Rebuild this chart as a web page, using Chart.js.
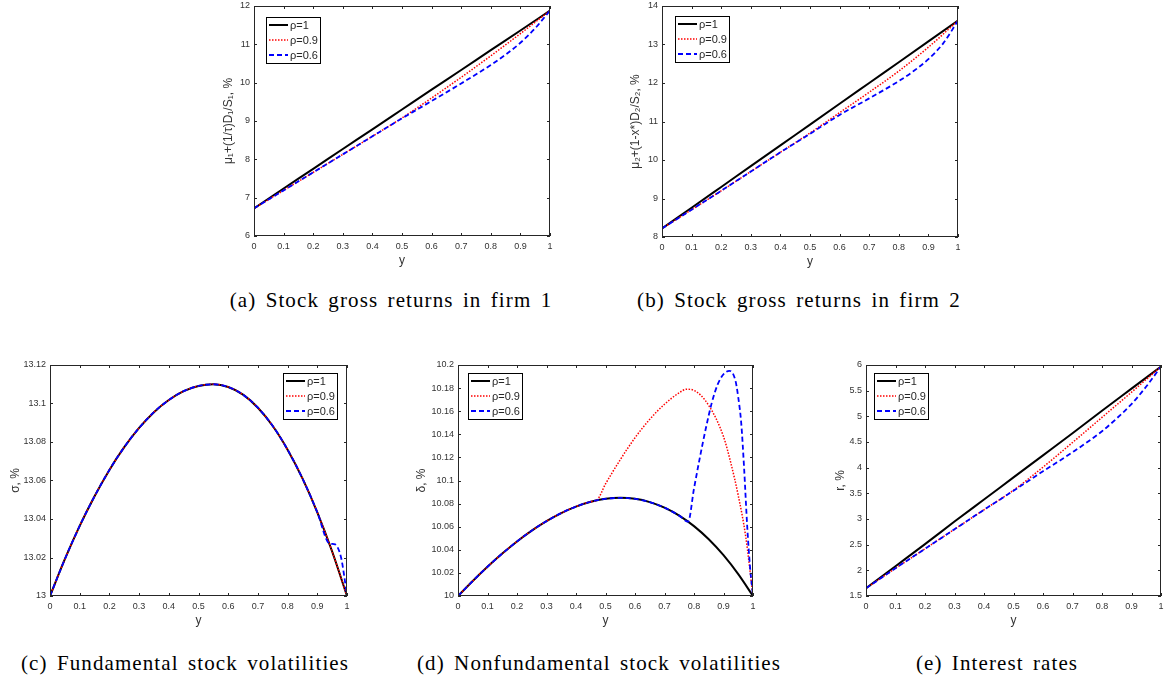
<!DOCTYPE html>
<html>
<head>
<meta charset="utf-8">
<script src="https://cdn.jsdelivr.net/npm/chart.js@4.4.0/dist/chart.umd.min.js"></script>
<style>
body{margin:0;background:#fff;width:1166px;height:682px;position:relative;overflow:hidden}
canvas{position:absolute}
.cap{position:absolute;font-family:"Liberation Serif",serif;font-size:21px;letter-spacing:1.1px;word-spacing:3px;color:#000;white-space:nowrap;transform:translate(-50%,-50%)}
</style>
</head>
<body>
<canvas id="ga" width="370" height="280" style="left:190px;top:0px"></canvas>
<canvas id="gb" width="370" height="281" style="left:598px;top:0px"></canvas>
<canvas id="gc" width="357" height="285" style="left:0px;top:355px"></canvas>
<canvas id="gd" width="369" height="285" style="left:394px;top:355px"></canvas>
<canvas id="ge" width="364" height="285" style="left:802px;top:355px"></canvas>

<div class="cap" style="left:391px;top:300px">(a) Stock gross returns in firm 1</div>
<div class="cap" style="left:799px;top:300px">(b) Stock gross returns in firm 2</div>
<div class="cap" style="left:185px;top:663px">(c) Fundamental stock volatilities</div>
<div class="cap" style="left:599px;top:663px">(d) Nonfundamental stock volatilities</div>
<div class="cap" style="left:997px;top:663px">(e) Interest rates</div>

<script>
// y grid (the horizontal variable) shared by most curves
const xTicks = [0, 0.1, 0.2, 0.3, 0.4, 0.5, 0.6, 0.7, 0.8, 0.9, 1];
const xCoarse = [0, 0.1, 0.2, 0.3, 0.4, 0.5, 0.6, 0.7, 0.8, 0.9, 1];
const xCoarse6 = [0, 0.1, 0.2, 0.3, 0.4, 0.5, 0.6, 0.7, 0.8, 0.85, 0.9, 0.95, 1];
const xFine = [0, 0.05, 0.1, 0.15, 0.2, 0.25, 0.3, 0.35, 0.4, 0.45, 0.5, 0.55, 0.6, 0.65, 0.7, 0.75, 0.8, 0.85, 0.9, 0.95, 1];
const labels = ['ρ=1', 'ρ=0.9', 'ρ=0.6'];

// (a) stock gross returns firm 1
const aTicks = [6, 7, 8, 9, 10, 11, 12];
const aRho1 = [6.72, 7.24, 7.75, 8.27, 8.78, 9.30, 9.82, 10.33, 10.85, 11.36, 11.88];
const aRho09 = [6.72, 7.19, 7.66, 8.13, 8.60, 9.08, 9.60, 10.14, 10.70, 11.28, 11.88];
const aRho06 = [6.72, 7.19, 7.66, 8.13, 8.60, 9.07, 9.52, 9.98, 10.46, 10.73, 11.04, 11.42, 11.88];

// (b) stock gross returns firm 2
const bTicks = [8, 9, 10, 11, 12, 13, 14];
const bRho1 = [8.22, 8.76, 9.30, 9.84, 10.38, 10.92, 11.46, 12.00, 12.54, 13.08, 13.62];
const bRho09 = [8.22, 8.71, 9.20, 9.70, 10.20, 10.70, 11.23, 11.76, 12.31, 12.93, 13.62];
const bRho06 = [8.22, 8.71, 9.20, 9.70, 10.20, 10.68, 11.17, 11.60, 12.05, 12.31, 12.62, 13.03, 13.62];

// (c) fundamental volatility
const cTicks = [13, 13.02, 13.04, 13.06, 13.08, 13.1, 13.12];
const cRho1 = [13.0000, 13.0191, 13.0364, 13.0518, 13.0655, 13.0773, 13.0873, 13.0955, 13.1018, 13.1064, 13.1091, 13.1100,
  13.1086, 13.1046, 13.0978, 13.0883, 13.0760, 13.0611, 13.0435, 13.0231, 13.0000];
const cRho09 = cRho1;
const xC6 = [0, 0.05, 0.1, 0.15, 0.2, 0.25, 0.3, 0.35, 0.4, 0.45, 0.5, 0.55, 0.6, 0.65, 0.7, 0.75, 0.8, 0.85, 0.9, 0.94, 0.96, 0.98, 0.99, 1];
const cRho06 = [13.0000, 13.0191, 13.0364, 13.0518, 13.0655, 13.0773, 13.0873, 13.0955, 13.1018, 13.1064, 13.1091, 13.1100,
  13.1086, 13.1046, 13.0978, 13.0883, 13.0760, 13.0611, 13.0435, 13.0274, 13.0268, 13.0200, 13.0110, 13.0000];

// (d) nonfundamental volatility
const dTicks = [10, 10.02, 10.04, 10.06, 10.08, 10.1, 10.12, 10.14, 10.16, 10.18, 10.2];
const dRho1 = [10.0000, 10.0130, 10.0253, 10.0367, 10.0472, 10.0566, 10.0648, 10.0718, 10.0774, 10.0816, 10.0841, 10.0850,
  10.0841, 10.0813, 10.0765, 10.0696, 10.0605, 10.0491, 10.0353, 10.0189, 10.0000];
const xD9 = [0, 0.05, 0.1, 0.15, 0.2, 0.25, 0.3, 0.35, 0.4, 0.45, 0.47, 0.5, 0.55, 0.6, 0.65, 0.7, 0.75, 0.775, 0.8,
  0.85, 0.9, 0.925, 0.95, 0.975, 1];
const dRho09 = [10.0000, 10.0130, 10.0253, 10.0367, 10.0472, 10.0566, 10.0648, 10.0718, 10.0774, 10.0816, 10.0828, 10.0970,
  10.1180, 10.1370, 10.1530, 10.1660, 10.1760, 10.1790, 10.1780, 10.1650, 10.1380, 10.1150, 10.0870, 10.0520, 10.0000];
const xD6 = [0, 0.05, 0.1, 0.15, 0.2, 0.25, 0.3, 0.35, 0.4, 0.45, 0.5, 0.55, 0.6, 0.65, 0.7, 0.75, 0.78, 0.8, 0.82, 0.84,
  0.86, 0.88, 0.9, 0.92, 0.94, 0.95, 0.96, 0.97, 0.98, 0.99, 1];
const dRho06 = [10.0000, 10.0130, 10.0253, 10.0367, 10.0472, 10.0566, 10.0648, 10.0718, 10.0774, 10.0816, 10.0841, 10.0850,
  10.0841, 10.0813, 10.0765, 10.0696, 10.0644, 10.0930, 10.1200, 10.1450, 10.1670, 10.1830, 10.1920, 10.1950, 10.1870,
  10.1720, 10.1500, 10.1100, 10.0620, 10.0250, 10.0000];

// (e) interest rates
const eTicks = [1.5, 2, 2.5, 3, 3.5, 4, 4.5, 5, 5.5, 6];
const eRho1 = [1.65, 2.08, 2.51, 2.95, 3.38, 3.81, 4.24, 4.67, 5.11, 5.54, 5.97];
const eRho09 = [1.65, 2.04, 2.42, 2.80, 3.18, 3.56, 4.01, 4.49, 4.98, 5.47, 5.97];
const eRho06 = [1.65, 2.04, 2.42, 2.80, 3.18, 3.55, 3.93, 4.30, 4.71, 4.96, 5.24, 5.58, 5.97];

const fuente = 'Liberation Sans';
const gris = '#333333';

// axes box with inward ticks on all four sides, like matlab
const cajaEjes = {
  id: 'cajaEjes',
  afterDatasetsDraw(chart) {
    const {ctx, chartArea: a, scales: {x, y}} = chart;
    ctx.save();
    ctx.strokeStyle = '#262626';
    ctx.lineWidth = 1;
    ctx.beginPath();
    x.ticks.forEach(t => {
      const px = Math.round(x.getPixelForValue(t.value)) + 0.5;
      ctx.moveTo(px, a.bottom); ctx.lineTo(px, a.bottom - 3);
      ctx.moveTo(px, a.top); ctx.lineTo(px, a.top + 3);
    });
    y.ticks.forEach(t => {
      const py = Math.round(y.getPixelForValue(t.value)) + 0.5;
      ctx.moveTo(a.left, py); ctx.lineTo(a.left + 3, py);
      ctx.moveTo(a.right, py); ctx.lineTo(a.right - 3, py);
    });
    ctx.stroke();
    ctx.strokeRect(Math.round(a.left) + 0.5, Math.round(a.top) + 0.5, Math.round(a.width) - 1, Math.round(a.height) - 1);
    ctx.restore();
  }
};

// legend drawn inside the axes with a black frame
const leyendaCaja = {
  id: 'leyendaCaja',
  afterDraw(chart, args, opts) {
    const {ctx, chartArea: a} = chart;
    const sets = chart.data.datasets.slice().sort((p, q) => q.order - p.order);
    ctx.save();
    ctx.font = '11px "' + fuente + '"';
    const tw = Math.max(...sets.map(d => ctx.measureText(d.label).width));
    const w = 24 + tw + 2, h = 46;
    const x0 = opts.right != null ? Math.round(a.right - opts.right - w) : a.left + opts.x;
    const y0 = a.top + opts.y;
    ctx.fillStyle = '#ffffff';
    ctx.fillRect(x0, y0, w, h);
    ctx.strokeStyle = '#000000';
    ctx.lineWidth = 1;
    ctx.strokeRect(x0 + 0.5, y0 + 0.5, Math.round(w), h);
    sets.forEach((d, i) => {
      const cy = y0 + 8 + i * 15;
      ctx.beginPath();
      ctx.setLineDash(d.borderDash);
      ctx.strokeStyle = d.borderColor;
      ctx.lineWidth = d.borderWidth;
      ctx.moveTo(x0 + 3, cy);
      ctx.lineTo(x0 + 22, cy);
      ctx.stroke();
      ctx.setLineDash([]);
      ctx.fillStyle = '#262626';
      ctx.textBaseline = 'middle';
      ctx.fillText(d.label, x0 + 24, cy + 0.5);
    });
    ctx.restore();
  }
};

function serie(label, xs, ys, color, dash, width, order) {
  return {
    label: label,
    data: xs.map((v, i) => ({x: v, y: ys[i]})),
    borderColor: color,
    borderDash: dash,
    borderWidth: width,
    order: order,
    fill: false,
    pointRadius: 0,
    cubicInterpolationMode: 'monotone'
  };
}

function panel(id, p) {
  return new Chart(document.getElementById(id), {
    type: 'line',
    data: {
      datasets: [
        serie(labels[0], p.x1, p.y1, '#000000', [], 2, 2),
        serie(labels[1], p.x9, p.y9, '#ff0000', [1.5, 1.5], 1.5, 1),
        serie(labels[2], p.x6, p.y6, '#0000ff', [5, 3], 1.8, 0)
      ]
    },
    options: {
      responsive: false,
      animation: false,
      events: [],
      layout: {padding: {top: p.top, right: p.right, left: 0, bottom: 0}},
      plugins: {
        legend: {display: false},
        tooltip: {enabled: false},
        leyendaCaja: p.leg
      },
      scales: {
        x: {
          type: 'linear', min: 0, max: 1,
          afterBuildTicks: s => { s.ticks = xTicks.map(v => ({value: v})); },
          afterFit: s => { s.height = p.xh; s.paddingLeft = 0; s.paddingRight = 0; },
          grid: {display: false, drawTicks: false},
          border: {display: false},
          ticks: {font: {family: fuente, size: 9}, color: gris, padding: 5, maxRotation: 0, autoSkip: false,
                  callback: v => String(v)},
          title: {display: true, text: 'y', color: gris, font: {family: fuente, size: 12},
                  padding: {top: 0, bottom: 12}}
        },
        y: {
          type: 'linear', min: p.yt[0], max: p.yt[p.yt.length - 1],
          afterBuildTicks: s => { s.ticks = p.yt.map(v => ({value: v})); },
          afterFit: s => { s.width = p.yw; s.paddingTop = 0; s.paddingBottom = 0; },
          grid: {display: false, drawTicks: false},
          border: {display: false},
          ticks: {font: {family: fuente, size: 9}, color: gris, padding: 4, autoSkip: false,
                  callback: v => String(v)},
          title: {display: true, text: p.ylab, color: gris, font: {family: fuente, size: 12},
                  padding: {top: p.tp, bottom: 0}}
        }
      }
    },
    plugins: [cajaEjes, leyendaCaja]
  });
}

panel('ga', {x1: xCoarse, y1: aRho1, x9: xCoarse, y9: aRho09, x6: xCoarse6, y6: aRho06, yt: aTicks,
  ylab: 'μ₁+(1/τ)D₁/S₁, %', top: 6, right: 10, xh: 44, yw: 64, tp: 31, leg: {x: 12, y: 11}});
panel('gb', {x1: xCoarse, y1: bRho1, x9: xCoarse, y9: bRho09, x6: xCoarse6, y6: bRho06, yt: bTicks,
  ylab: 'μ₂+(1-x*)D₂/S₂, %', top: 6, right: 10, xh: 44, yw: 64, tp: 30, leg: {x: 13, y: 10}});
panel('gc', {x1: xFine, y1: cRho1, x9: xFine, y9: cRho09, x6: xC6, y6: cRho06, yt: cTicks,
  ylab: 'σ, %', top: 10, right: 10, xh: 44, yw: 50, tp: 8, leg: {right: 10, y: 8}});
panel('gd', {x1: xFine, y1: dRho1, x9: xD9, y9: dRho09, x6: xD6, y6: dRho06, yt: dTicks,
  ylab: 'δ, %', top: 10, right: 10, xh: 44, yw: 64, tp: 20, leg: {x: 10, y: 8}});
panel('ge', {x1: xCoarse, y1: eRho1, x9: xCoarse, y9: eRho09, x6: xCoarse6, y6: eRho06, yt: eTicks,
  ylab: 'r, %', top: 10, right: 5, xh: 44, yw: 64, tp: 31, leg: {x: 8, y: 8}});
</script>
</body>
</html>
